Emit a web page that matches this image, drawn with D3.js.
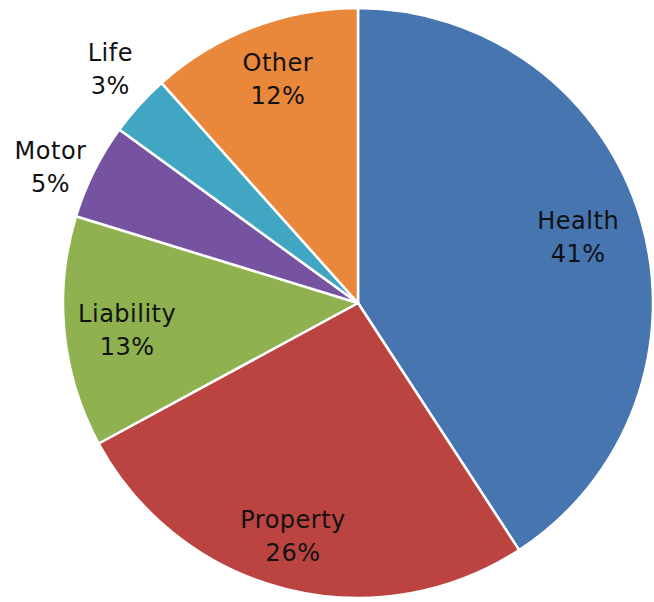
<!DOCTYPE html>
<html>
<head>
<meta charset="utf-8">
<script src="https://cdn.jsdelivr.net/npm/d3@7"></script>
<style>
  body { margin: 0; background: #fff; }
  text { font-family: "DejaVu Sans", Verdana, sans-serif; }
</style>
</head>
<body>
<div id="pie"></div>
<script>
const categories = ["Health", "Property", "Liability", "Motor", "Life", "Other"];
// slice sizes; labels show them rounded
const shares = [40.8, 26.3, 12.65, 5.25, 3.4, 11.6];
const colors = ["#4675b0", "#bb4441", "#8fb150", "#7553a0", "#41a6c4", "#e9873a"];
// labels of the thin slices sit outside the pie
const outside = [false, false, false, true, true, false];
// small hand placement of each label, like in the original
const nudge = [[-6, 1], [-7, 4], [4, 4], [-4, 16], [4, -6], [4, -4]];

const width = 654, height = 602;
const cx = 358, cy = 303, radius = 295;

const svg = d3.select("#pie")
    .append("svg")
    .attr("width", width)
    .attr("height", height)
    .append("g")
    .attr("transform", `translate(${cx},${cy})`);

const data = categories.map((c, i) => ({
    name: c, value: shares[i], color: colors[i], out: outside[i], nudge: nudge[i]
}));

const pie = d3.pie().sort(null).value(d => d.value);
const arcs = pie(data);

const arc = d3.arc().innerRadius(0).outerRadius(radius);
const inLabel = d3.arc().innerRadius(radius * 0.8).outerRadius(radius * 0.8);
const outLabel = d3.arc().innerRadius(radius * 1.15).outerRadius(radius * 1.15);

svg.selectAll("path")
    .data(arcs)
    .join("path")
    .attr("d", arc)
    .attr("fill", d => d.data.color)
    .attr("stroke", "#fff")
    .attr("stroke-width", 2.5)
    .attr("stroke-linejoin", "round");

const labels = svg.selectAll("text.lbl")
    .data(arcs)
    .join("text")
    .attr("class", "lbl")
    .attr("text-anchor", "middle")
    .attr("font-size", 24)
    .attr("letter-spacing", 0.5)
    .attr("fill", "#111");

labels.each(function(d) {
    const c = (d.data.out ? outLabel : inLabel).centroid(d);
    const x = c[0] + d.data.nudge[0], y = c[1] + d.data.nudge[1];
    const t = d3.select(this);
    t.append("tspan").attr("x", x).attr("y", y - 8).text(d.data.name);
    t.append("tspan").attr("x", x).attr("y", y + 25).text(Math.round(d.data.value) + "%");
});
</script>
</body>
</html>
